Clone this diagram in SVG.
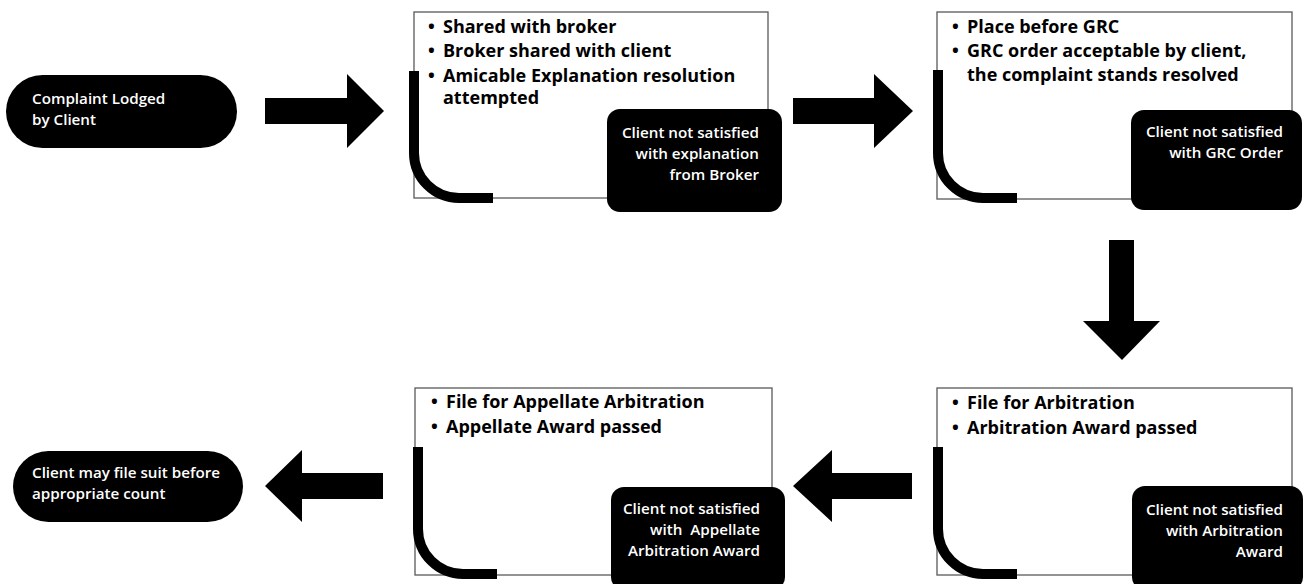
<svg xmlns="http://www.w3.org/2000/svg" width="1303" height="584" viewBox="0 0 1303 584">
<style>
.bg{fill:#fff}
.pill{fill:#000}
.box{fill:#fff;stroke:#595959;stroke-width:1.3}
.bar{fill:none;stroke:#000;stroke-width:10;stroke-linecap:butt}
.call{fill:#000}
.arr{fill:#000}
.wt{fill:#fff;font-family:"Open Sans","Liberation Sans",sans-serif;font-weight:600;font-size:15.2px}
.ct{fill:#fff;font-family:"Open Sans","Liberation Sans",sans-serif;font-weight:600;font-size:15.2px;text-anchor:end}
.bt{fill:#000;font-family:"Open Sans","Liberation Sans",sans-serif;font-weight:700;font-size:18px}
</style>
<rect class="bg" x="0" y="0" width="1303" height="584"/>

<g id="connectors">
  <polygon class="arr" points="265,98 347,98 347,74 384,111 347,148 347,124 265,124"/>
  <polygon class="arr" points="793,98 874,98 874,74 913,111 874,148 874,124 793,124"/>
  <polygon class="arr" points="1109,240 1134,240 1134,321 1160,321 1122,360 1083,321 1109,321"/>
  <polygon class="arr" points="912,473 832,473 832,450 793,486 832,522 832,499 912,499"/>
  <polygon class="arr" points="383,473 302,473 302,450 265,486 302,522 302,499 383,499"/>
</g>

<g id="start">
  <rect class="pill" x="6" y="75" width="231" height="73" rx="36.5"/>
  <text class="wt" x="32" y="104">Complaint Lodged</text>
  <text class="wt" x="32" y="125">by Client</text>
</g>

<g id="broker">
  <rect class="box" x="414" y="12" width="354" height="186"/>
  <path class="bar" d="M414,71 V153 A45,45 0 0 0 459,198 H493"/>
  <text class="bt" x="428" y="33">•</text><text class="bt" x="443" y="33">Shared with broker</text>
  <text class="bt" x="428" y="57">•</text><text class="bt" x="443" y="57">Broker shared with client</text>
  <text class="bt" x="428" y="82">•</text><text class="bt" x="443" y="82">Amicable Explanation resolution</text>
  <text class="bt" x="443" y="104">attempted</text>
  <rect class="call" x="607" y="109" width="175" height="103" rx="13"/>
  <text class="ct" x="759" y="138">Client not satisfied</text>
  <text class="ct" x="759" y="159">with explanation</text>
  <text class="ct" x="759" y="180">from Broker</text>
</g>

<g id="grc">
  <rect class="box" x="937" y="12" width="355" height="187"/>
  <path class="bar" d="M938,70 V153 A45,45 0 0 0 983,198 H1017"/>
  <text class="bt" x="952" y="33">•</text><text class="bt" x="967" y="33">Place before GRC</text>
  <text class="bt" x="952" y="57">•</text><text class="bt" x="967" y="57">GRC order acceptable by client,</text>
  <text class="bt" x="967" y="81">the complaint stands resolved</text>
  <rect class="call" x="1131" y="110" width="171" height="100" rx="13"/>
  <text class="ct" x="1283" y="137">Client not satisfied</text>
  <text class="ct" x="1283" y="158">with GRC Order</text>
</g>

<g id="arbitration">
  <rect class="box" x="937" y="388" width="355" height="187"/>
  <path class="bar" d="M938,447 V529 A45,45 0 0 0 983,574 H1017"/>
  <text class="bt" x="952" y="409">•</text><text class="bt" x="967" y="409">File for Arbitration</text>
  <text class="bt" x="952" y="434">•</text><text class="bt" x="967" y="434">Arbitration Award passed</text>
  <rect class="call" x="1132" y="486" width="171" height="104" rx="13"/>
  <text class="ct" x="1283" y="515">Client not satisfied</text>
  <text class="ct" x="1283" y="536">with Arbitration</text>
  <text class="ct" x="1283" y="557">Award</text>
</g>

<g id="appellate">
  <rect class="box" x="415" y="388" width="357" height="187"/>
  <path class="bar" d="M418,447 V529 A45,45 0 0 0 463,574 H497"/>
  <text class="bt" x="431" y="408">•</text><text class="bt" x="446" y="408">File for Appellate Arbitration</text>
  <text class="bt" x="431" y="433">•</text><text class="bt" x="446" y="433">Appellate Award passed</text>
  <rect class="call" x="611" y="487" width="174" height="103" rx="13"/>
  <text class="ct" x="760" y="514">Client not satisfied</text>
  <text class="ct" x="760" y="535" xml:space="preserve">with  Appellate</text>
  <text class="ct" x="760" y="556">Arbitration Award</text>
</g>

<g id="end">
  <rect class="pill" x="13" y="451" width="230" height="71" rx="35.5"/>
  <text class="wt" x="32" y="478">Client may file suit before</text>
  <text class="wt" x="32" y="499">appropriate count</text>
</g>
</svg>
